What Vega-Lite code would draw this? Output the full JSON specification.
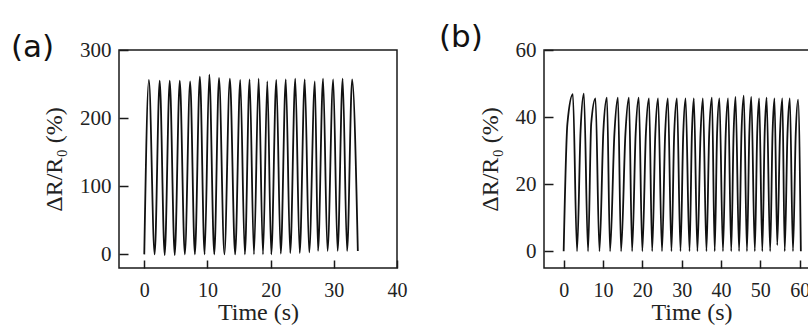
{
  "$schema": "https://vega.github.io/schema/vega-lite/v6.json",
  "background": "white",
  "padding": {"left": 10, "top": 21, "right": 0, "bottom": 0},
  "spacing": 147,
  "bounds": "flush",
  "datasets": {
    "a": [
      {"t": 0, "v": 0}, {"t": 0.73, "v": 256}, {"t": 1.64, "v": 0}, {"t": 2.44, "v": 255}, {"t": 3.23, "v": -1},
      {"t": 4.03, "v": 255}, {"t": 4.82, "v": -1}, {"t": 5.62, "v": 255}, {"t": 6.42, "v": 0},
      {"t": 7.26, "v": 254}, {"t": 8.01, "v": 0}, {"t": 8.8, "v": 261}, {"t": 9.55, "v": 0},
      {"t": 10.29, "v": 264}, {"t": 11.08, "v": 0}, {"t": 11.83, "v": 259}, {"t": 12.68, "v": 0},
      {"t": 13.55, "v": 258}, {"t": 14.38, "v": 0}, {"t": 15.19, "v": 256}, {"t": 15.92, "v": 0},
      {"t": 16.67, "v": 257}, {"t": 17.36, "v": 0}, {"t": 18.1, "v": 258}, {"t": 18.79, "v": 0},
      {"t": 19.47, "v": 254}, {"t": 20.1, "v": 0}, {"t": 20.9, "v": 256}, {"t": 21.6, "v": 1},
      {"t": 22.4, "v": 257}, {"t": 23.1, "v": 2}, {"t": 23.9, "v": 258}, {"t": 24.6, "v": 2},
      {"t": 25.4, "v": 257}, {"t": 26.1, "v": 3}, {"t": 27.0, "v": 254}, {"t": 27.5, "v": 5},
      {"t": 28.3, "v": 258}, {"t": 29.0, "v": 5}, {"t": 29.9, "v": 257}, {"t": 30.6, "v": 5},
      {"t": 31.4, "v": 258}, {"t": 32.1, "v": 5}, {"t": 32.9, "v": 257}, {"t": 33.8, "v": 5}
    ],
    "b": [
      {"t": 0, "v": 0}, {"t": 0.95, "v": 38}, {"t": 2.34, "v": 46.8},
      {"t": 3.4, "v": 0}, {"t": 4.3, "v": 36}, {"t": 5.14, "v": 47.0},
      {"t": 6.2, "v": 0}, {"t": 7.0, "v": 38}, {"t": 8.09, "v": 45.6},
      {"t": 9.1, "v": 0}, {"t": 10.1, "v": 36}, {"t": 11.0, "v": 45.8},
      {"t": 11.8, "v": 0}, {"t": 12.9, "v": 35}, {"t": 13.8, "v": 45.8},
      {"t": 14.6, "v": 0}, {"t": 15.7, "v": 35}, {"t": 16.6, "v": 45.8},
      {"t": 17.4, "v": 0}, {"t": 18.3, "v": 35}, {"t": 19.1, "v": 45.8},
      {"t": 20.0, "v": 0}, {"t": 20.9, "v": 35}, {"t": 21.7, "v": 45.6},
      {"t": 22.5, "v": 0}, {"t": 23.3, "v": 35}, {"t": 24.0, "v": 45.6},
      {"t": 25.0, "v": 0}, {"t": 25.8, "v": 35}, {"t": 26.5, "v": 45.6},
      {"t": 27.4, "v": 0}, {"t": 28.1, "v": 35}, {"t": 28.8, "v": 45.6},
      {"t": 29.7, "v": 0}, {"t": 30.4, "v": 35}, {"t": 31.0, "v": 45.6},
      {"t": 32.0, "v": 0}, {"t": 32.6, "v": 35}, {"t": 33.1, "v": 45.6},
      {"t": 34.0, "v": 0}, {"t": 34.8, "v": 35}, {"t": 35.4, "v": 45.6},
      {"t": 36.3, "v": 0}, {"t": 37.0, "v": 35}, {"t": 37.7, "v": 45.8},
      {"t": 38.4, "v": 0}, {"t": 39.0, "v": 35}, {"t": 39.6, "v": 45.6},
      {"t": 40.5, "v": 0}, {"t": 41.2, "v": 35}, {"t": 41.8, "v": 45.6},
      {"t": 42.6, "v": 0}, {"t": 43.2, "v": 35}, {"t": 43.7, "v": 46.0},
      {"t": 44.6, "v": 0}, {"t": 45.2, "v": 35}, {"t": 45.8, "v": 46.4},
      {"t": 46.6, "v": 0}, {"t": 47.2, "v": 35}, {"t": 47.7, "v": 46.0},
      {"t": 48.6, "v": 0}, {"t": 49.2, "v": 35}, {"t": 49.7, "v": 45.6},
      {"t": 50.5, "v": 0}, {"t": 51.1, "v": 35}, {"t": 51.6, "v": 45.8},
      {"t": 52.5, "v": 0}, {"t": 53.1, "v": 35}, {"t": 53.6, "v": 45.6},
      {"t": 54.3, "v": 1.8}, {"t": 55.0, "v": 35}, {"t": 55.6, "v": 45.6},
      {"t": 56.2, "v": 0}, {"t": 56.9, "v": 35}, {"t": 57.5, "v": 45.6},
      {"t": 58.3, "v": 0}, {"t": 59.0, "v": 35}, {"t": 59.6, "v": 45.2},
      {"t": 60.3, "v": 0}
    ]
  },
  "config": {
    "view": {"stroke": "#1a1a1a", "strokeWidth": 1.5},
    "font": "Liberation Serif",
    "axis": {
      "domain": false, "grid": false, "tickColor": "#1a1a1a", "tickWidth": 1.5, "zindex": 1,
      "labelFont": "Liberation Serif", "labelFontSize": 21, "labelColor": "#222",
      "titleFont": "Liberation Serif", "titleFontSize": 24, "titleFontWeight": "normal", "titleColor": "#222"
    },
    "axisX": {"tickSize": -8, "labelPadding": 20, "labelFontSize": 20, "titlePadding": 0, "labelFlush": false},
    "axisY": {"tickSize": -9, "labelPadding": 17, "titlePadding": 13},
    "title": {"font": "DejaVu Sans", "fontSize": 31, "fontWeight": "normal", "anchor": "start", "frame": "group", "color": "#111", "baseline": "alphabetic", "offset": 0}
  },
  "hconcat": [
    {
      "width": 278, "height": 218,
      "title": {"text": "(a)", "dx": -108, "dy": 29},
      "data": {"name": "a"},
      "mark": {"type": "line", "interpolate": "monotone", "color": "#111", "strokeWidth": 1.8},
      "encoding": {
        "x": {"field": "t", "type": "quantitative", "scale": {"domain": [-4, 40], "nice": false, "zero": false}, "axis": {"values": [0, 10, 20, 30, 40], "title": "Time (s)"}},
        "y": {"field": "v", "type": "quantitative", "scale": {"domain": [-20, 300], "nice": false, "zero": false}, "axis": {"values": [0, 100, 200, 300], "title": "ΔR/R₀ (%)"}}
      }
    },
    {
      "width": 295, "height": 218,
      "title": {"text": "(b)", "dx": -105, "dy": 19},
      "data": {"name": "b"},
      "mark": {"type": "line", "interpolate": "monotone", "color": "#111", "strokeWidth": 1.8},
      "encoding": {
        "x": {"field": "t", "type": "quantitative", "scale": {"domain": [-5, 70], "nice": false, "zero": false}, "axis": {"values": [0, 10, 20, 30, 40, 50, 60, 70], "title": "Time (s)"}},
        "y": {"field": "v", "type": "quantitative", "scale": {"domain": [-5, 60], "nice": false, "zero": false}, "axis": {"values": [0, 20, 40, 60], "title": "ΔR/R₀ (%)"}}
      }
    }
  ]
}
